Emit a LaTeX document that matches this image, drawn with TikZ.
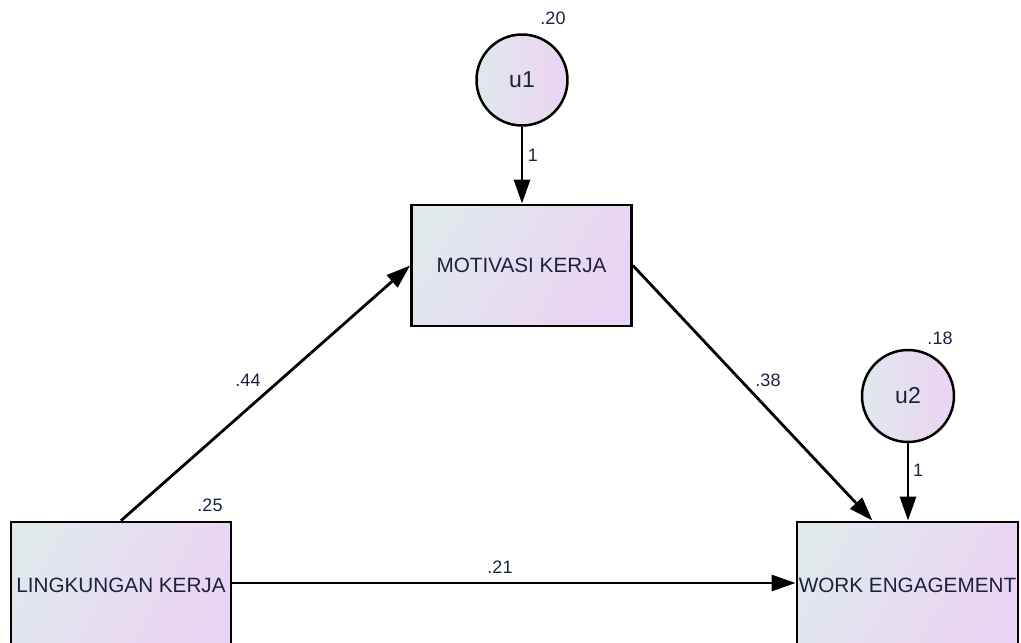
\documentclass[tikz,border=0pt]{standalone}
\usepackage{fontspec}
\setmainfont{Liberation Sans}
\usetikzlibrary{arrows.meta,positioning}
\definecolor{txt}{HTML}{1A2240}
\definecolor{fillL}{HTML}{E0E8EC}
\definecolor{fillR}{HTML}{EBD3F3}
\tikzset{
  obs/.style={draw=black,line width=2.8pt,left color=fillL,right color=fillR,
    shading angle=60,minimum width=220pt,minimum height=121pt,inner sep=0pt,
    text=txt,font=\fontsize{20.7}{24}\selectfont},
  err/.style={circle,draw=black,line width=2.5pt,left color=fillL,right color=fillR,
    minimum size=91pt,inner sep=0pt,text=txt,font=\fontsize{23}{27}\selectfont},
  path/.style={line width=2.8pt,-{Triangle[length=24pt,width=16pt]}},
  coef/.style={text=txt,font=\fontsize{18}{21}\selectfont,inner sep=0pt}
}
\begin{document}
\begin{tikzpicture}[x=1pt,y=-1pt]
\useasboundingbox (0,0) rectangle (1021,643);
\clip (0,0) rectangle (1021,643);
\node[obs] (mot) at (521.5,265.5) {MOTIVASI KERJA};
\node[obs,minimum height=126pt] (lk) at (121,585) {LINGKUNGAN KERJA};
\node[obs,minimum height=126pt,minimum width=221pt] (we) at (907.5,585) {WORK ENGAGEMENT};
\node[err] (u1) at (522,80) {u1};
\node[err,minimum size=92pt] (u2) at (908,396) {u2};
\draw[path] (u1) -- (mot.north -| u1);
\draw[path] (u2) -- (we.north -| u2);
\draw[path] (lk.north) -- (mot.west);
\draw[path] (mot.east) -- ([xshift=-35pt]we.north);
\draw[path] (lk.east |- 0,583) -- (we.west |- 0,583);
\node[coef] (c20) at (553,18) {.20};
\node[coef] (c18) at (940,338) {.18};
\node[coef] (c25) at (210,505) {.25};
\node[coef] (c44) at (248,380) {.44};
\node[coef] (c38) at (768,380) {.38};
\node[coef] (c21) at (500,567) {.21};
\node[coef] (c1a) at (533,155) {1};
\node[coef] (c1b) at (918,470) {1};
\end{tikzpicture}
\end{document}
